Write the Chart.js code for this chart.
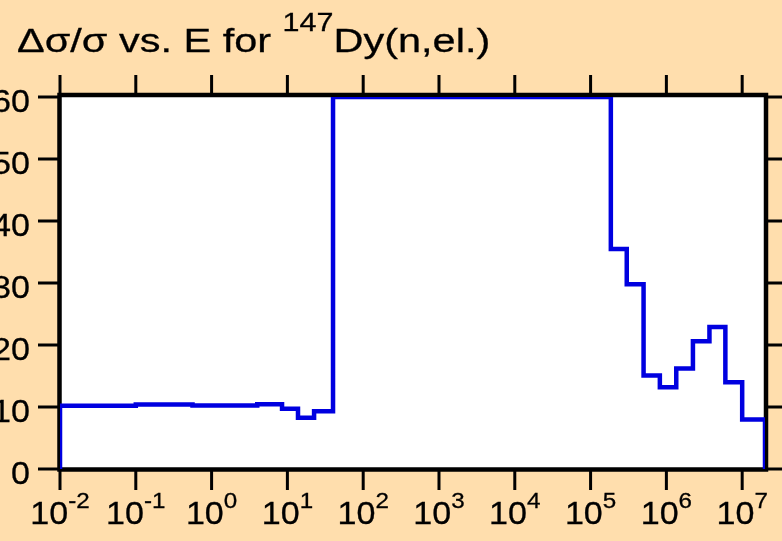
<!DOCTYPE html>
<html>
<head>
<meta charset="utf-8">
<title>Dy-147 elastic uncertainty</title>
<script src="https://cdn.jsdelivr.net/npm/chart.js@4/dist/chart.umd.min.js"></script>
<style>
  html, body { margin: 0; padding: 0; background: #ffdead; }
  canvas { display: block; }
</style>
</head>
<body>
<canvas id="unc" width="782" height="541"></canvas>
<script>
// group boundaries in eV (one more than the values)
const energyEdges = [1e-2, 0.1, 0.56, 4.0, 8.5, 13.8, 22.5, 40, 1.85e5, 3.0e5, 5.0e5, 8.2e5, 1.35e6, 2.24e6, 3.7e6, 6.0e6, 1.0e7, 2e7];
// relative uncertainty in % for each group
const relUncertainty = [10.2, 10.4, 10.25, 10.45, 9.7, 8.25, 9.3, 60, 35.5, 29.8, 15.1, 13.2, 16.2, 20.6, 22.9, 14.0, 8.0];
const yTicks = [0, 10, 20, 30, 40, 50, 60];
const xTickExps = [-2, -1, 0, 1, 2, 3, 4, 5, 6, 7];

const FONT = '"Liberation Sans", Arial, sans-serif';
const STRETCH = 1.1; // tick text is drawn a little wide

// histogram outline: start and end on zero
const points = [{ x: energyEdges[0], y: 0 }];
relUncertainty.forEach((v, i) => points.push({ x: energyEdges[i], y: v }));
const last = energyEdges[energyEdges.length - 1];
points.push({ x: last, y: relUncertainty[relUncertainty.length - 1] });
points.push({ x: last, y: 0 });

function wideText(ctx, str, x, y, size, sx) {
    ctx.save();
    ctx.font = size + 'px ' + FONT;
    ctx.translate(x, y);
    ctx.scale(sx, 1);
    ctx.lineWidth = 0.3;
    ctx.fillText(str, 0, 0);
    ctx.strokeText(str, 0, 0);
    ctx.restore();
}
function wideWidth(ctx, str, size, sx) {
    ctx.font = size + 'px ' + FONT;
    return ctx.measureText(str).width * sx;
}

const framePlugin = {
    id: 'frame',
    beforeDatasetsDraw(chart) {
        const { ctx, chartArea: a } = chart;
        ctx.save();
        ctx.fillStyle = '#ffffff';
        ctx.fillRect(a.left, a.top, a.right - a.left, a.bottom - a.top);
        ctx.strokeStyle = '#000000';
        ctx.lineWidth = 4.5;
        ctx.strokeRect(a.left - 0.5, a.top - 2, a.right - a.left + 1.5, a.bottom - a.top + 2.5);
        ctx.restore();
    },
    afterDraw(chart) {
        const { ctx, chartArea: a, scales } = chart;
        const xs = scales.x, ys = scales.y;
        ctx.save();
        ctx.strokeStyle = '#000000';
        ctx.fillStyle = '#000000';
        ctx.lineWidth = 3;
        ctx.textAlign = 'left';
        ctx.textBaseline = 'alphabetic';

        // y ticks on both sides, pointing out
        yTicks.forEach(v => {
            const py = ys.getPixelForValue(v);
            ctx.beginPath();
            ctx.moveTo(a.left - 22, py); ctx.lineTo(a.left - 1, py);
            ctx.moveTo(a.right + 1, py); ctx.lineTo(a.right + 20, py);
            ctx.stroke();
            const w = wideWidth(ctx, String(v), 31, STRETCH);
            wideText(ctx, String(v), 30 - w, py + 14.5, 31, STRETCH);
        });

        // decade ticks on top and bottom, labels as 10^n
        xTickExps.forEach(e => {
            const px = xs.getPixelForValue(Math.pow(10, e));
            ctx.beginPath();
            ctx.moveTo(px, a.top - 22); ctx.lineTo(px, a.top - 1);
            ctx.moveTo(px, a.bottom + 1); ctx.lineTo(px, a.bottom + 21);
            ctx.stroke();
            const sup = String(e);
            const wb = wideWidth(ctx, '10', 31, STRETCH);
            const ws = wideWidth(ctx, sup, 22, STRETCH);
            const x0 = px - (wb + ws) / 2;
            wideText(ctx, '10', x0, 523.5, 31, STRETCH);
            wideText(ctx, sup, x0 + wb, 508, 22, STRETCH);
        });

        // title with superscript mass number
        const ts = 1.22;
        let tx = 17;
        const p1 = '\u0394\u03c3/\u03c3 vs. E for ';
        wideText(ctx, p1, tx, 51.5, 34, ts);
        tx += wideWidth(ctx, p1, 34, ts);
        wideText(ctx, '147', tx, 31, 25, ts);
        tx += wideWidth(ctx, '147', 25, ts);
        wideText(ctx, 'Dy(n,el.)', tx, 51.5, 34, ts);
        ctx.restore();
    }
};

new Chart(document.getElementById('unc'), {
    type: 'line',
    data: {
        datasets: [{
            data: points,
            stepped: true,
            borderColor: '#0000e0',
            borderWidth: 4.5,
            pointRadius: 0,
            fill: false
        }]
    },
    options: {
        responsive: false,
        animation: false,
        layout: { padding: { left: 60, right: 17, top: 97, bottom: 72 } },
        plugins: { legend: { display: false }, tooltip: { enabled: false }, title: { display: false } },
        scales: {
            x: { type: 'logarithmic', min: 1e-2, max: 2e7, display: false },
            y: { type: 'linear', min: 0, max: 60, display: false }
        }
    },
    plugins: [framePlugin]
});
</script>
</body>
</html>
